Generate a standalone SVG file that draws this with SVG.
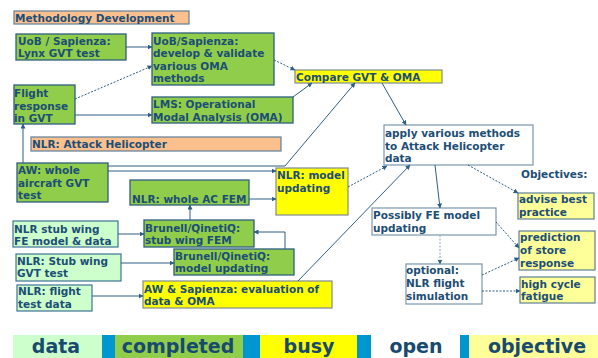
<svg xmlns="http://www.w3.org/2000/svg" width="598" height="358" viewBox="0 0 598 358">
<defs>
<style>
.t{font-family:"DejaVu Sans","Liberation Sans",sans-serif;font-weight:bold;font-size:10.5px;fill:#1d4e75}
.lg{font-family:"DejaVu Sans","Liberation Sans",sans-serif;font-weight:bold;font-size:19px;fill:#174a6e;text-anchor:middle}
.green{fill:#8fcd4a;stroke:#2f5f80;stroke-width:1.3}
.data{fill:#ccffcc;stroke:#3f7394;stroke-width:1.2}
.busy{fill:#ffff00;stroke:#7f8a8f;stroke-width:1.2}
.open{fill:#ffffff;stroke:#7b97ad;stroke-width:1.2}
.obj{fill:#ffff99;stroke:#5f7f97;stroke-width:1.2}
.peach{fill:#fcc08e;stroke:#5f7f99;stroke-width:1.2}
.c{fill:none;stroke:#2f5f80;stroke-width:1;marker-end:url(#ah)}
.d{fill:none;stroke:#2f5f80;stroke-width:1;stroke-dasharray:2,1.5;marker-end:url(#ah)}
.dl{fill:none;stroke:#8fa6b8;stroke-width:1;stroke-dasharray:2,1.5;marker-end:url(#ah)}
</style>
<marker id="ah" viewBox="0 0 10 10" refX="9" refY="5" markerWidth="5" markerHeight="5" markerUnits="userSpaceOnUse" orient="auto">
<path d="M0,0 L10,5 L0,10 z" fill="#2f5f80"/>
</marker>
</defs>
<rect width="598" height="358" fill="#ffffff"/>

<g id="title"><rect class="peach" x="14" y="11" width="175" height="13"/><text class="t" x="15" y="22">Methodology Development</text></g>

<g id="n_uob_lynx"><rect class="green" x="16" y="34" width="110" height="26"/><text class="t" x="18" y="45">UoB / Sapienza:</text><text class="t" x="18" y="57">Lynx GVT test</text></g>
<g id="n_uob_dev"><rect class="green" x="152" y="33" width="122" height="52"/><text class="t" x="153" y="45">UoB/Sapienza:</text><text class="t" x="153" y="57">develop &amp; validate</text><text class="t" x="153" y="70">various OMA</text><text class="t" x="153" y="82">methods</text></g>
<g id="n_flight"><rect class="green" x="14" y="85" width="61" height="39"/><text class="t" x="14" y="97">Flight</text><text class="t" x="14" y="110">response</text><text class="t" x="14" y="122">in GVT</text></g>
<g id="n_lms"><rect class="green" x="152" y="97" width="141" height="26"/><text class="t" x="153" y="108">LMS: Operational</text><text class="t" x="153" y="121">Modal Analysis (OMA)</text></g>
<g id="n_compare"><rect class="busy" x="295" y="70" width="147" height="13"/><text class="t" x="296" y="81">Compare GVT &amp; OMA</text></g>
<g id="n_attack"><rect class="peach" x="31" y="137" width="250" height="14"/><text class="t" x="32" y="148">NLR: Attack Helicopter</text></g>
<g id="n_apply"><rect class="open" x="384" y="125" width="149" height="40"/><text class="t" x="385" y="137">apply various methods</text><text class="t" x="385" y="150">to Attack Helicopter</text><text class="t" x="385" y="162">data</text></g>
<g id="n_aw"><rect class="green" x="17" y="163" width="91" height="39"/><text class="t" x="18" y="174">AW: whole</text><text class="t" x="18" y="187">aircraft GVT</text><text class="t" x="18" y="199">test</text></g>
<g id="n_acfem"><rect class="green" x="130" y="180" width="119" height="25"/><text class="t" x="132" y="203">NLR: whole AC FEM</text></g>
<g id="n_nlrupd"><rect class="busy" x="276" y="168" width="72" height="47"/><text class="t" x="277" y="179">NLR: model</text><text class="t" x="277" y="192">updating</text></g>
<g id="n_objlabel"><text class="t" x="521" y="178">Objectives:</text></g>
<g id="n_advise"><rect class="obj" x="518" y="193" width="76" height="26"/><text class="t" x="519" y="203">advise best</text><text class="t" x="519" y="216">practice</text></g>
<g id="n_possibly"><rect class="open" x="372" y="208" width="124" height="27"/><text class="t" x="373" y="219">Possibly FE model</text><text class="t" x="373" y="232">updating</text></g>
<g id="n_stubfe"><rect class="data" x="13" y="221" width="105" height="26"/><text class="t" x="14" y="233">NLR stub wing</text><text class="t" x="14" y="245">FE model &amp; data</text></g>
<g id="n_brstub"><rect class="green" x="144" y="220" width="110" height="27"/><text class="t" x="145" y="232">Brunell/QinetiQ:</text><text class="t" x="145" y="244">stub wing FEM</text></g>
<g id="n_brupd"><rect class="green" x="174" y="249" width="120" height="26"/><text class="t" x="175" y="260">Brunell/QinetiQ:</text><text class="t" x="175" y="272">model updating</text></g>
<g id="n_stubgvt"><rect class="data" x="16" y="254" width="105" height="27"/><text class="t" x="17" y="265">NLR: Stub wing</text><text class="t" x="17" y="277">GVT test</text></g>
<g id="n_prediction"><rect class="obj" x="519" y="231" width="76" height="39"/><text class="t" x="520" y="241">prediction</text><text class="t" x="520" y="254">of store</text><text class="t" x="520" y="267">response</text></g>
<g id="n_optional"><rect class="open" x="406" y="264" width="76" height="40"/><text class="t" x="406" y="274">optional:</text><text class="t" x="406" y="287">NLR flight</text><text class="t" x="406" y="300">simulation</text></g>
<g id="n_fatigue"><rect class="obj" x="520" y="277" width="75" height="26"/><text class="t" x="521" y="288">high cycle</text><text class="t" x="521" y="300">fatigue</text></g>
<g id="n_flightdata"><rect class="data" x="17" y="285" width="75" height="26"/><text class="t" x="18" y="295">NLR: flight</text><text class="t" x="18" y="308">test data</text></g>
<g id="n_awsap"><rect class="busy" x="143" y="281" width="189" height="27"/><text class="t" x="144" y="293">AW &amp; Sapienza: evaluation of</text><text class="t" x="144" y="305">data &amp; OMA</text></g>

<g id="connectors">
<path class="c" d="M126,47 L152,47"/>
<path class="d" d="M75,99 L152,66"/>
<path class="c" d="M75,115 L152,115"/>
<path class="d" d="M274,60 L295,70"/>
<path class="c" d="M293,97 L312,83"/>
<path class="c" d="M108,166 L285,166 L355,83"/>
<path class="c" d="M108,171 L276,171"/>
<path class="c" d="M23,163 L23,124"/>
<path class="c" d="M249,199 L276,199"/>
<path class="c" d="M190,220 L190,205"/>
<path class="c" d="M118,234 L144,234"/>
<path class="c" d="M285,249 L285,232 L254,232"/>
<path class="c" d="M121,263 L174,263"/>
<path class="c" d="M92,296 L143,296"/>
<path class="c" d="M298,281 L410,165"/>
<path class="d" d="M348,187 L387,166"/>
<path class="c" d="M382,83 L406,125"/>
<path class="c" d="M435,165 L440,208"/>
<path class="d" d="M468,165 L518,193"/>
<path class="d" d="M496,222 L519,248"/>
<path class="dl" d="M440,235 L440,264"/>
<path class="d" d="M482,275 L519,258"/>
<path class="d" d="M482,291 L520,291"/>
</g>

<g id="legend">
<rect x="13" y="335" width="89" height="23" fill="#ccffcc"/>
<rect x="102" y="335" width="13" height="23" fill="#0096d0"/>
<rect x="115" y="335" width="128" height="23" fill="#8fcd4a"/>
<rect x="243" y="335" width="17" height="23" fill="#0096d0"/>
<rect x="260" y="335" width="97" height="23" fill="#ffff00"/>
<rect x="357" y="335" width="14" height="23" fill="#0096d0"/>
<rect x="371" y="335" width="89" height="23" fill="#ffffff"/>
<rect x="460" y="335" width="9" height="23" fill="#0096d0"/>
<rect x="469" y="335" width="129" height="23" fill="#ffff99"/>
<text class="lg" x="56" y="353">data</text>
<text class="lg" x="178" y="353">completed</text>
<text class="lg" x="309" y="353">busy</text>
<text class="lg" x="416" y="353">open</text>
<text class="lg" x="537" y="353">objective</text>
</g>
</svg>
